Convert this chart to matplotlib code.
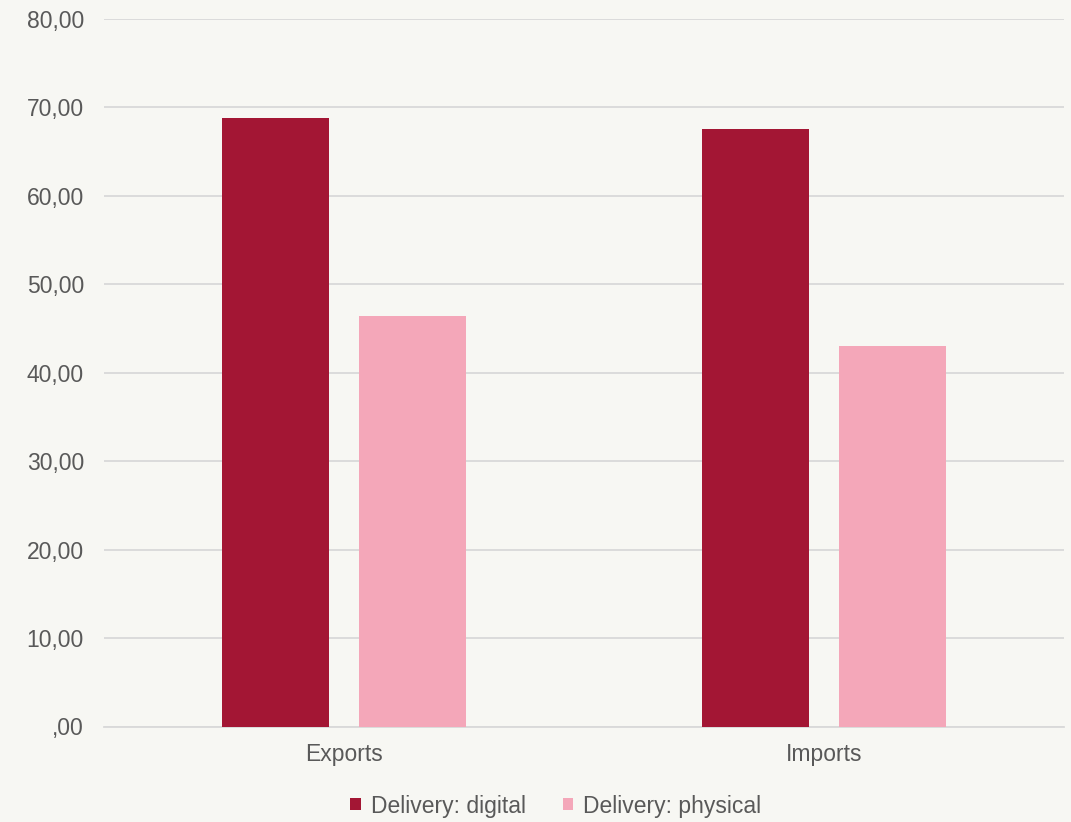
import matplotlib.pyplot as plt
import numpy as np
from matplotlib.ticker import FuncFormatter, MultipleLocator

categories = ["Exports", "Imports"]
series_names = ["Delivery: digital", "Delivery: physical"]
digital = [68.8, 67.6]
physical = [46.4, 43.0]

colors = ["#A31634", "#F4A7B9"]
bg = "#F7F7F3"
text_color = "#595959"

plt.rcParams["font.family"] = ["Liberation Sans", "DejaVu Sans"]

fig = plt.figure(figsize=(10.71, 8.22), dpi=100, facecolor=bg)
ax = fig.add_axes([104 / 1071, 1 - 726.5 / 822, 960 / 1071, (726.5 - 19) / 822])
ax.set_facecolor(bg)

x = np.arange(len(categories))
width = 0.223
offset = 0.1427
ax.bar(x - offset, digital, width, color=colors[0], label=series_names[0], zorder=3)
ax.bar(x + offset, physical, width, color=colors[1], label=series_names[1], zorder=3)

ax.set_xlim(-0.5, len(categories) - 0.5)
ax.set_ylim(0, 80)
ax.yaxis.set_major_locator(MultipleLocator(10))


def comma_fmt(v, _pos):
    s = f"{v:.2f}".replace(".", ",")
    return s[1:] if s.startswith("0,") else s


ax.yaxis.set_major_formatter(FuncFormatter(comma_fmt))
ax.grid(axis="y", color="#D9D9D9", linewidth=1.3, zorder=0)
for side in ["top", "right", "left"]:
    ax.spines[side].set_visible(False)
ax.spines["bottom"].set_color("#D9D9D9")
ax.spines["bottom"].set_linewidth(1.3)

ax.set_xticks(x)
ax.set_xticklabels(categories)
ax.tick_params(axis="both", length=0, labelsize=16.5, colors=text_color)
ax.tick_params(axis="y", pad=14.5)
ax.tick_params(axis="x", pad=12)

leg = fig.legend(
    loc="center",
    bbox_to_anchor=(556 / 1071, 1 - 806 / 822),
    ncol=2,
    frameon=False,
    fontsize=16.5,
    handlelength=0.45,
    handleheight=0.45,
    handletextpad=0.45,
    columnspacing=1.6,
)
for t in leg.get_texts():
    t.set_color(text_color)

fig.savefig("out.png", dpi=100, facecolor=bg)
